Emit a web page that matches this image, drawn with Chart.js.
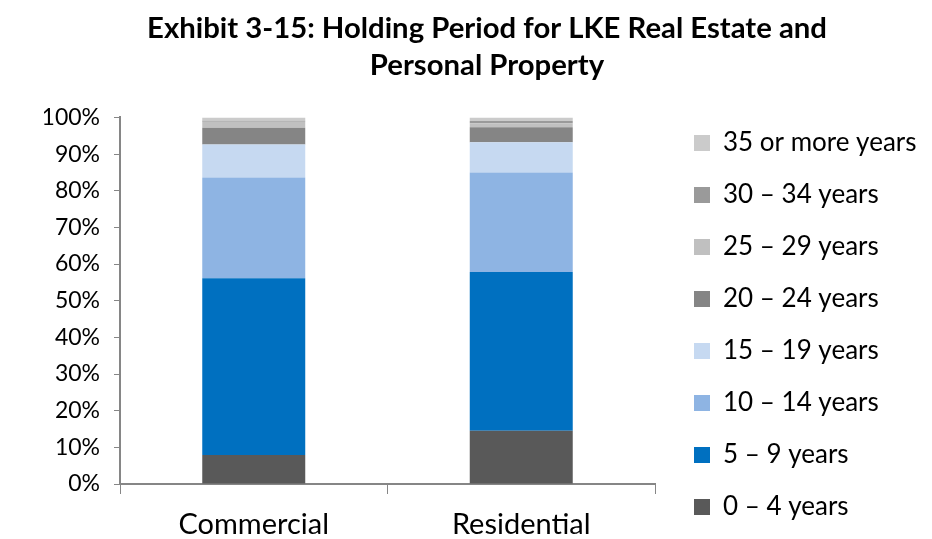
<!DOCTYPE html>
<html>
<head>
<meta charset="utf-8">
<script src="https://cdn.jsdelivr.net/npm/chart.js@4.4.0/dist/chart.umd.min.js"></script>
<style>
  html, body { margin: 0; padding: 0; background: #fff; }
  #wrap { width: 932px; height: 539px; position: relative; }
</style>
</head>
<body>
<div id="wrap"><canvas id="chart"></canvas></div>
<script>
// categories and series (percent of each bar)
const categories = ['Commercial', 'Residential'];
const seriesNames = ['0 – 4 years', '5 – 9 years', '10 – 14 years', '15 – 19 years',
                     '20 – 24 years', '25 – 29 years', '30 – 34 years', '35 or more years'];
const years0to4   = [7.9, 14.5];
const years5to9   = [48.2, 43.3];
const years10to14 = [27.5, 27.2];
const years15to19 = [9.0, 8.2];
const years20to24 = [4.6, 4.1];
const years25to29 = [1.6, 1.1];
const years30to34 = [0.3, 0.6];
const years35plus = [0.9, 1.0];
const yTicks = [0, 10, 20, 30, 40, 50, 60, 70, 80, 90, 100];

const seriesValues = [years0to4, years5to9, years10to14, years15to19,
                      years20to24, years25to29, years30to34, years35plus];
const colors = ['#595959', '#0070C0', '#8EB4E3', '#C6D9F1',
                '#858585', '#C0C0C0', '#9A9A9A', '#CBCBCB'];

const FONT = 'Lato, Calibri, "Liberation Sans", sans-serif';
const LEGEND_W = 275;

const data = {
    labels: categories,
    datasets: seriesNames.map((name, i) => ({
        label: name,
        data: seriesValues[i],
        backgroundColor: colors[i],
        borderWidth: 0,
        barPercentage: 0.385,
        categoryPercentage: 1
    }))
};

// fixed legend width, and legend block placed like in the original layout
const legendPlace = {
    id: 'legendPlace',
    afterInit(chart) {
        const lg = chart.legend;
        const fit = lg.fit.bind(lg);
        lg.fit = function () { fit(); this.width = LEGEND_W; };
    },
    afterLayout(chart) {
        const lg = chart.legend;
        lg.left = chart.chartArea.right + 13;
        lg.right = lg.left + LEGEND_W + 20;
        lg.top = 104;
        lg.bottom = 620;
    }
};

function draw() {
    const ctx = document.getElementById('chart').getContext('2d');
    new Chart(ctx, {
        type: 'bar',
        data: data,
        plugins: [legendPlace],
        options: {
            responsive: true,
            maintainAspectRatio: false,
            animation: false,
            layout: { padding: { left: 44, right: 2, top: 4, bottom: 0 } },
            plugins: {
                title: {
                    display: true,
                    text: ['Exhibit 3-15: Holding Period for LKE Real Estate and', 'Personal Property'],
                    color: '#000',
                    font: { family: FONT, size: 29.3, weight: 'bold', lineHeight: 1.27 },
                    padding: { top: 6, bottom: 33 }
                },
                legend: {
                    position: 'right',
                    align: 'start',
                    reverse: true,
                    labels: {
                        color: '#000',
                        font: { family: FONT, size: 26 },
                        boxWidth: 16,
                        boxHeight: 16,
                        padding: 26
                    }
                },
                tooltip: { enabled: false }
            },
            scales: {
                x: {
                    stacked: true,
                    afterFit: (scale) => { scale.height = 55; },
                    grid: {
                        offset: true,
                        drawOnChartArea: false,
                        drawTicks: true,
                        tickLength: 10,
                        color: '#868686'
                    },
                    border: { color: '#868686', width: 2 },
                    ticks: {
                        color: '#000',
                        font: { family: FONT, size: 29, lineHeight: 1 },
                        padding: 16
                    }
                },
                y: {
                    stacked: true,
                    min: 0,
                    max: 100,
                    afterFit: (scale) => { scale.width = 76; },
                    afterBuildTicks: (axis) => { axis.ticks = yTicks.map(v => ({ value: v })); },
                    grid: {
                        drawOnChartArea: false,
                        drawTicks: true,
                        tickLength: 6,
                        color: '#868686'
                    },
                    border: { color: '#868686', width: 2 },
                    ticks: {
                        color: '#000',
                        font: { family: FONT, size: 23 },
                        padding: 14,
                        callback: (v) => v + '%'
                    }
                }
            }
        }
    });
}

Promise.all([
    document.fonts.load('26px Lato'),
    document.fonts.load('bold 29px Lato')
]).then(draw, draw);
</script>
</body>
</html>
